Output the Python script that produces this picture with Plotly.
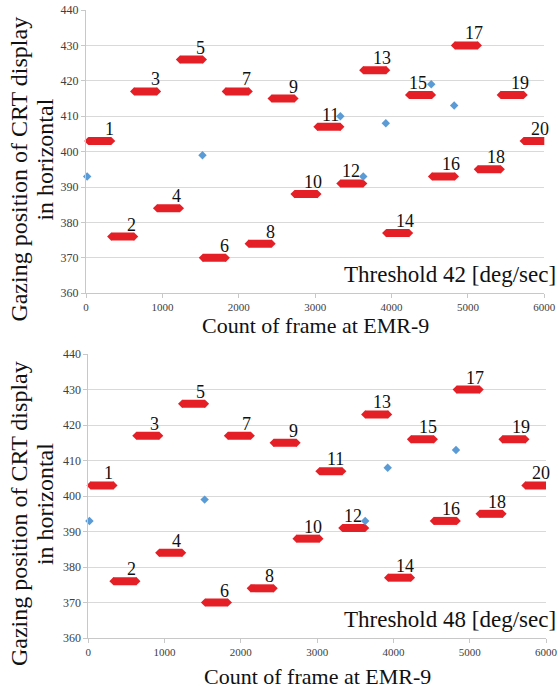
import plotly.graph_objects as go

# ---------------- data ----------------
seg_id = list(range(1, 21))
seg_start = [30, 330, 630, 930, 1230, 1530, 1830, 2130, 2430, 2730,
             3030, 3330, 3630, 3930, 4230, 4530, 4830, 5130, 5430, 5730]
seg_end = [330, 630, 930, 1230, 1530, 1830, 2130, 2430, 2730, 3030,
           3330, 3630, 3930, 4230, 4530, 4830, 5130, 5430, 5730, 6030]
seg_y = [403, 376, 417, 384, 426, 370, 417, 374, 415, 388,
         407, 391, 423, 377, 416, 393, 430, 395, 416, 403]

# label anchor (frame) for each segment number
label_x_42 = [305, 593, 907, 1181, 1500, 1810, 2107, 2421, 2717, 2966,
              3198, 3469, 3874, 4170, 4346, 4772, 5086, 5370, 5684, 5945]
label_x_48 = [271, 569, 874, 1159, 1468, 1783, 2080, 2372, 2696, 2949,
              3242, 3473, 3853, 4151, 4449, 4754, 5068, 5352, 5667, 5933]

# detected saccade points (blue)
pts_x_42 = [15, 1525, 3330, 3630, 3925, 4520, 4820]
pts_y_42 = [393, 399, 410, 393, 408, 419, 413]
pts_x_48 = [15, 1525, 3630, 3925, 4820]
pts_y_48 = [393, 399, 393, 408, 413]

thresholds = ["Threshold 42 [deg/sec]", "Threshold 48 [deg/sec]"]
x_ticks = [0, 1000, 2000, 3000, 4000, 5000, 6000]
y_ticks = [360, 370, 380, 390, 400, 410, 420, 430, 440]

RED = "#E41F26"
BLUE = "#5B9BD5"
SERIF = "Liberation Serif"

fig = go.Figure()

panels = [
    ("x", "y", label_x_42, pts_x_42, pts_y_42, thresholds[0], -32),
    ("x2", "y2", label_x_48, pts_x_48, pts_y_48, thresholds[1], -38),
]

annotations = []
for xa, ya, lab_x, px, py, thr, xt_shift in panels:
    lx, ly = [], []
    for s, e, yv in zip(seg_start, seg_end, seg_y):
        lx += [s, e, None]
        ly += [yv, yv, None]
    fig.add_trace(go.Scatter(x=lx, y=ly, mode="lines", xaxis=xa, yaxis=ya,
                             line=dict(color=RED, width=8), hoverinfo="skip",
                             showlegend=False))
    fig.add_trace(go.Scatter(x=seg_start + seg_end, y=seg_y + seg_y, mode="markers",
                             xaxis=xa, yaxis=ya, cliponaxis=False,
                             marker=dict(symbol="diamond", size=6.3, color=RED,
                                         line=dict(width=0)),
                             hoverinfo="skip", showlegend=False))
    fig.add_trace(go.Scatter(x=px, y=py, mode="markers", xaxis=xa, yaxis=ya,
                             cliponaxis=False,
                             marker=dict(symbol="diamond", size=6.5, color=BLUE,
                                         line=dict(width=0)),
                             showlegend=False))
    for n, xv, yv in zip(seg_id, lab_x, seg_y):
        annotations.append(dict(x=xv, y=yv, xref=xa, yref=ya, text=str(n),
                                showarrow=False, yanchor="middle", yshift=12,
                                font=dict(family=SERIF, size=18, color="#111")))
    ydom = ya + " domain"
    xdom = xa + " domain"
    annotations.append(dict(x=1, y=0, xref="paper", yref=ydom, text=thr,
                            showarrow=False, xanchor="right", yanchor="middle",
                            xshift=12, yshift=19,
                            font=dict(family=SERIF, size=23, color="#111")))
    annotations.append(dict(x=0.5, y=0, xref=xdom, yref=ydom,
                            text="Count of frame at EMR-9",
                            showarrow=False, xanchor="center", yanchor="middle",
                            yshift=xt_shift,
                            font=dict(family=SERIF, size=22, color="#111")))
    annotations.append(dict(x=0, y=0.5, xref="paper", yref=ydom,
                            text="Gazing position of CRT display",
                            textangle=-90, showarrow=False, xanchor="center",
                            yanchor="middle", xshift=-67, yshift=-18,
                            font=dict(family=SERIF, size=24, color="#111")))
    annotations.append(dict(x=0, y=0.5, xref="paper", yref=ydom,
                            text="in horizontal",
                            textangle=-90, showarrow=False, xanchor="center",
                            yanchor="middle", xshift=-41, yshift=-8,
                            font=dict(family=SERIF, size=24, color="#111")))

axis_common_x = dict(range=[0, 6000], tickvals=x_ticks, showgrid=False,
                     zeroline=False, showline=True, linecolor="#c8c8c8",
                     ticks="outside", ticklen=4, tickcolor="#c8c8c8",
                     automargin=False,
                     tickfont=dict(family=SERIF, size=11, color="#404040"))
axis_common_y = dict(range=[360, 440], tickvals=y_ticks, showgrid=True,
                     gridcolor="#d9d9d9", gridwidth=1, zeroline=False,
                     showline=True, linecolor="#c8c8c8", ticks="outside",
                     ticklen=4, tickcolor="#c8c8c8", automargin=False,
                     tickfont=dict(family=SERIF, size=12, color="#404040"))

fig.update_layout(
    width=558, height=690, autosize=False,
    margin=dict(l=86, r=12, t=10, b=52, autoexpand=False),
    paper_bgcolor="white", plot_bgcolor="white",
    font=dict(family=SERIF),
    xaxis=dict(domain=[0, 0.9963], anchor="y", **axis_common_x),
    yaxis=dict(domain=[0.549, 1.0], anchor="x", **axis_common_y),
    xaxis2=dict(domain=[0.005, 1.0], anchor="y2", **axis_common_x),
    yaxis2=dict(domain=[0.0, 0.452], anchor="x2", **axis_common_y),
    annotations=annotations,
    showlegend=False,
)

fig.write_html(
    "out.html",
    config={"displayModeBar": False},
    post_script="document.body.style.margin='0';document.body.style.overflow='hidden';",
)
